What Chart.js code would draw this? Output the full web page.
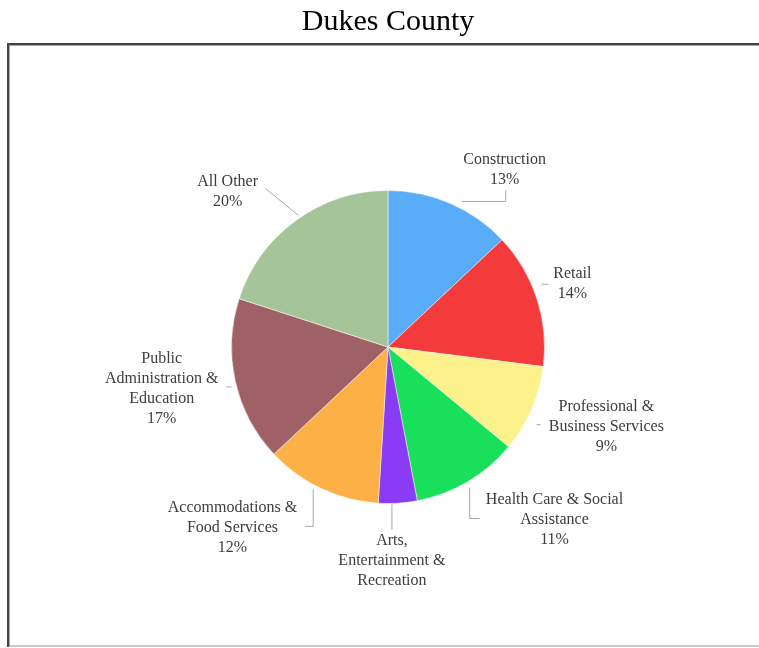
<!DOCTYPE html>
<html>
<head>
<meta charset="utf-8">
<title>Dukes County</title>
<script src="https://cdn.jsdelivr.net/npm/chart.js@4/dist/chart.umd.min.js"></script>
<style>
  html, body { margin: 0; padding: 0; background: #fff; }
  canvas { display: block; }
</style>
</head>
<body>
<canvas id="pieChart" width="759" height="648"></canvas>
<script>
// Employment share by industry
const categories = [
    'Construction',
    'Retail',
    'Professional &\nBusiness Services',
    'Health Care & Social\nAssistance',
    'Arts,\nEntertainment &\nRecreation',
    'Accommodations &\nFood Services',
    'Public\nAdministration &\nEducation',
    'All Other'
];
const shares = [13, 14, 9, 11, 4, 12, 17, 20];
// the Arts label carries no percentage line
const showShare = [true, true, true, true, false, true, true, true];
const sliceColors = ['#58acf8', '#f43b3b', '#fdf18c', '#18e05b', '#8a3bf4', '#fcb046', '#a06166', '#a5c497'];

// label placement in units of the pie radius, measured from the pie centre
const labelCenters = [
    [0.745, -1.134], [1.178, -0.401], [1.395, 0.510], [1.064, 1.102],
    [0.025, 1.369], [-0.994, 1.153], [-1.446, 0.268], [-1.025, -0.994]
];
const leaderLines = [
    [[0.471, -0.930], [0.752, -0.930], [0.752, -1.0]],
    [[0.981, -0.401], [1.025, -0.401]],
    [[0.949, 0.497], [0.975, 0.497]],
    [[0.522, 0.898], [0.522, 1.096], [0.586, 1.096]],
    [[0.025, 1.006], [0.025, 1.166]],
    [[-0.478, 0.911], [-0.478, 1.146], [-0.529, 1.146]],
    [[-1.032, 0.255], [-1.0, 0.255]],
    [[-0.783, -1.013], [-0.573, -0.841]]
];

// white page with the frame around the plot
const framePlugin = {
    id: 'frame',
    beforeDraw(chart) {
        const ctx = chart.ctx;
        ctx.save();
        ctx.fillStyle = '#fff';
        ctx.fillRect(0, 0, chart.width, chart.height);
        ctx.fillStyle = '#c9c9c9';
        ctx.fillRect(8, 645, chart.width - 8, 2);
        ctx.fillStyle = '#444';
        ctx.fillRect(7, 43, chart.width - 7, 2);
        ctx.fillRect(7, 43, 2, 604);
        ctx.fillStyle = '#a8a8a8';
        ctx.fillRect(9, 45, chart.width - 9, 1);
        ctx.fillRect(9, 45, 1, 601);
        ctx.restore();
    }
};

// outside labels with leader lines
const outsideLabels = {
    id: 'outsideLabels',
    afterDatasetsDraw(chart) {
        const ctx = chart.ctx;
        const arcs = chart.getDatasetMeta(0).data;
        const cx = arcs[0].x, cy = arcs[0].y, r = arcs[0].outerRadius;
        ctx.save();
        ctx.strokeStyle = '#a6a6a6';
        ctx.lineWidth = 1;
        leaderLines.forEach(pts => {
            ctx.beginPath();
            pts.forEach((p, j) => {
                const x = cx + p[0] * r, y = cy + p[1] * r;
                if (j === 0) ctx.moveTo(x, y); else ctx.lineTo(x, y);
            });
            ctx.stroke();
        });
        ctx.fillStyle = '#3d3d3d';
        ctx.font = '16px "Liberation Serif", "Times New Roman", serif';
        ctx.textAlign = 'center';
        ctx.textBaseline = 'middle';
        const lineH = 20;
        categories.forEach((name, i) => {
            const lines = name.split('\n');
            if (showShare[i]) lines.push(shares[i] + '%');
            const x = cx + labelCenters[i][0] * r;
            const y0 = cy + labelCenters[i][1] * r - (lines.length - 1) * lineH / 2;
            lines.forEach((t, k) => ctx.fillText(t, x, y0 + k * lineH));
        });
        ctx.restore();
    }
};

const ctx = document.getElementById('pieChart').getContext('2d');
const pieChart = new Chart(ctx, {
    type: 'pie',
    data: {
        labels: categories,
        datasets: [{
            data: shares,
            backgroundColor: sliceColors,
            borderColor: 'rgba(255,255,255,0.5)',
            borderWidth: 1
        }]
    },
    options: {
        responsive: false,
        animation: false,
        layout: {
            padding: { top: 0, bottom: 144, left: 231, right: 214 }
        },
        plugins: {
            legend: { display: false },
            tooltip: { enabled: false },
            title: {
                display: true,
                text: 'Dukes County',
                color: '#000',
                font: { family: '"Liberation Serif", "Times New Roman", serif', size: 30, weight: 'normal', lineHeight: 1.2 },
                // the gap below the title pushes the pie down inside the frame
                padding: { top: 4, bottom: 150 }
            }
        }
    },
    plugins: [framePlugin, outsideLabels]
});
</script>
</body>
</html>
